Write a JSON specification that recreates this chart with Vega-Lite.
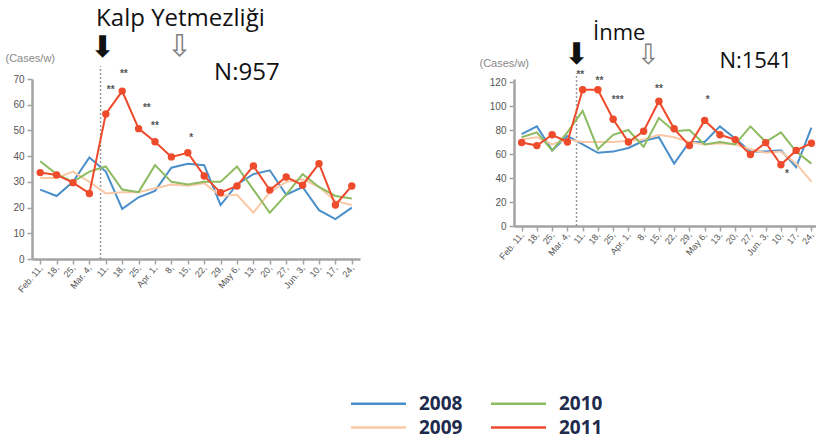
{
  "$schema": "https://vega.github.io/schema/vega-lite/v6.json",
  "padding": {"top": 7, "left": 5, "right": 0, "bottom": 0},
  "background": "white",
  "bounds": "flush",
  "spacing": 154,
  "datasets": {
    "series": [
      {"p":"L","year":"2008","w":0,"v":27},{"p":"L","year":"2008","w":1,"v":24.5},{"p":"L","year":"2008","w":2,"v":30},{"p":"L","year":"2008","w":3,"v":39.5},{"p":"L","year":"2008","w":4,"v":34},{"p":"L","year":"2008","w":5,"v":19.5},{"p":"L","year":"2008","w":6,"v":24},{"p":"L","year":"2008","w":7,"v":26.5},{"p":"L","year":"2008","w":8,"v":35.5},{"p":"L","year":"2008","w":9,"v":37},{"p":"L","year":"2008","w":10,"v":36.5},{"p":"L","year":"2008","w":11,"v":21},{"p":"L","year":"2008","w":12,"v":29},{"p":"L","year":"2008","w":13,"v":33},{"p":"L","year":"2008","w":14,"v":34.5},{"p":"L","year":"2008","w":15,"v":25},{"p":"L","year":"2008","w":16,"v":28},{"p":"L","year":"2008","w":17,"v":19},{"p":"L","year":"2008","w":18,"v":15.5},{"p":"L","year":"2008","w":19,"v":20},
      {"p":"L","year":"2009","w":0,"v":31.5},{"p":"L","year":"2009","w":1,"v":31.5},{"p":"L","year":"2009","w":2,"v":34},{"p":"L","year":"2009","w":3,"v":30},{"p":"L","year":"2009","w":4,"v":25.5},{"p":"L","year":"2009","w":5,"v":26},{"p":"L","year":"2009","w":6,"v":26},{"p":"L","year":"2009","w":7,"v":27.5},{"p":"L","year":"2009","w":8,"v":29},{"p":"L","year":"2009","w":9,"v":28.5},{"p":"L","year":"2009","w":10,"v":29.5},{"p":"L","year":"2009","w":11,"v":24.5},{"p":"L","year":"2009","w":12,"v":25},{"p":"L","year":"2009","w":13,"v":18},{"p":"L","year":"2009","w":14,"v":26},{"p":"L","year":"2009","w":15,"v":30},{"p":"L","year":"2009","w":16,"v":31},{"p":"L","year":"2009","w":17,"v":28},{"p":"L","year":"2009","w":18,"v":22.5},{"p":"L","year":"2009","w":19,"v":21},
      {"p":"L","year":"2010","w":0,"v":38},{"p":"L","year":"2010","w":1,"v":33},{"p":"L","year":"2010","w":2,"v":30},{"p":"L","year":"2010","w":3,"v":34},{"p":"L","year":"2010","w":4,"v":36},{"p":"L","year":"2010","w":5,"v":27},{"p":"L","year":"2010","w":6,"v":26},{"p":"L","year":"2010","w":7,"v":36.5},{"p":"L","year":"2010","w":8,"v":30},{"p":"L","year":"2010","w":9,"v":29},{"p":"L","year":"2010","w":10,"v":30},{"p":"L","year":"2010","w":11,"v":30},{"p":"L","year":"2010","w":12,"v":36},{"p":"L","year":"2010","w":13,"v":27},{"p":"L","year":"2010","w":14,"v":18},{"p":"L","year":"2010","w":15,"v":25},{"p":"L","year":"2010","w":16,"v":33},{"p":"L","year":"2010","w":17,"v":28},{"p":"L","year":"2010","w":18,"v":24.5},{"p":"L","year":"2010","w":19,"v":23.5},
      {"p":"L","year":"2011","w":0,"v":33.6},{"p":"L","year":"2011","w":1,"v":32.7},{"p":"L","year":"2011","w":2,"v":29.7},{"p":"L","year":"2011","w":3,"v":25.5},{"p":"L","year":"2011","w":4,"v":56.4},{"p":"L","year":"2011","w":5,"v":65.3},{"p":"L","year":"2011","w":6,"v":50.7},{"p":"L","year":"2011","w":7,"v":45.6},{"p":"L","year":"2011","w":8,"v":39.7},{"p":"L","year":"2011","w":9,"v":41.3},{"p":"L","year":"2011","w":10,"v":32.3},{"p":"L","year":"2011","w":11,"v":25.8},{"p":"L","year":"2011","w":12,"v":28.4},{"p":"L","year":"2011","w":13,"v":36.2},{"p":"L","year":"2011","w":14,"v":26.8},{"p":"L","year":"2011","w":15,"v":31.9},{"p":"L","year":"2011","w":16,"v":28.7},{"p":"L","year":"2011","w":17,"v":37.1},{"p":"L","year":"2011","w":18,"v":21},{"p":"L","year":"2011","w":19,"v":28.4},
      {"p":"R","year":"2008","w":0,"v":76.6},{"p":"R","year":"2008","w":1,"v":83},{"p":"R","year":"2008","w":2,"v":63},{"p":"R","year":"2008","w":3,"v":75},{"p":"R","year":"2008","w":4,"v":68},{"p":"R","year":"2008","w":5,"v":61},{"p":"R","year":"2008","w":6,"v":62},{"p":"R","year":"2008","w":7,"v":65},{"p":"R","year":"2008","w":8,"v":71},{"p":"R","year":"2008","w":9,"v":74},{"p":"R","year":"2008","w":10,"v":52},{"p":"R","year":"2008","w":11,"v":70},{"p":"R","year":"2008","w":12,"v":70},{"p":"R","year":"2008","w":13,"v":83},{"p":"R","year":"2008","w":14,"v":73},{"p":"R","year":"2008","w":15,"v":62},{"p":"R","year":"2008","w":16,"v":62},{"p":"R","year":"2008","w":17,"v":63},{"p":"R","year":"2008","w":18,"v":49},{"p":"R","year":"2008","w":19,"v":82},
      {"p":"R","year":"2009","w":0,"v":72},{"p":"R","year":"2009","w":1,"v":74},{"p":"R","year":"2009","w":2,"v":68},{"p":"R","year":"2009","w":3,"v":72},{"p":"R","year":"2009","w":4,"v":70},{"p":"R","year":"2009","w":5,"v":70},{"p":"R","year":"2009","w":6,"v":70},{"p":"R","year":"2009","w":7,"v":71},{"p":"R","year":"2009","w":8,"v":72},{"p":"R","year":"2009","w":9,"v":76},{"p":"R","year":"2009","w":10,"v":74},{"p":"R","year":"2009","w":11,"v":70},{"p":"R","year":"2009","w":12,"v":68},{"p":"R","year":"2009","w":13,"v":69},{"p":"R","year":"2009","w":14,"v":68},{"p":"R","year":"2009","w":15,"v":64},{"p":"R","year":"2009","w":16,"v":61},{"p":"R","year":"2009","w":17,"v":62},{"p":"R","year":"2009","w":18,"v":52},{"p":"R","year":"2009","w":19,"v":37},
      {"p":"R","year":"2010","w":0,"v":74},{"p":"R","year":"2010","w":1,"v":78},{"p":"R","year":"2010","w":2,"v":63},{"p":"R","year":"2010","w":3,"v":78},{"p":"R","year":"2010","w":4,"v":96},{"p":"R","year":"2010","w":5,"v":64},{"p":"R","year":"2010","w":6,"v":76},{"p":"R","year":"2010","w":7,"v":80},{"p":"R","year":"2010","w":8,"v":66},{"p":"R","year":"2010","w":9,"v":90},{"p":"R","year":"2010","w":10,"v":79},{"p":"R","year":"2010","w":11,"v":80},{"p":"R","year":"2010","w":12,"v":68},{"p":"R","year":"2010","w":13,"v":70},{"p":"R","year":"2010","w":14,"v":68},{"p":"R","year":"2010","w":15,"v":83},{"p":"R","year":"2010","w":16,"v":70},{"p":"R","year":"2010","w":17,"v":78},{"p":"R","year":"2010","w":18,"v":62},{"p":"R","year":"2010","w":19,"v":52},
      {"p":"R","year":"2011","w":0,"v":69.6},{"p":"R","year":"2011","w":1,"v":67},{"p":"R","year":"2011","w":2,"v":76},{"p":"R","year":"2011","w":3,"v":70},{"p":"R","year":"2011","w":4,"v":113.5},{"p":"R","year":"2011","w":5,"v":113.5},{"p":"R","year":"2011","w":6,"v":89},{"p":"R","year":"2011","w":7,"v":70},{"p":"R","year":"2011","w":8,"v":79},{"p":"R","year":"2011","w":9,"v":104},{"p":"R","year":"2011","w":10,"v":81},{"p":"R","year":"2011","w":11,"v":67},{"p":"R","year":"2011","w":12,"v":88},{"p":"R","year":"2011","w":13,"v":76},{"p":"R","year":"2011","w":14,"v":72},{"p":"R","year":"2011","w":15,"v":59.5},{"p":"R","year":"2011","w":16,"v":69.5},{"p":"R","year":"2011","w":17,"v":51},{"p":"R","year":"2011","w":18,"v":63},{"p":"R","year":"2011","w":19,"v":69}
    ],
    "notes": [
      {"p":"L","k":"rule","w":3.68,"v":0,"v2":75},
      {"p":"L","k":"head","w":8.55,"v":93.3,"t":"Kalp Yetmezliği"},
      {"p":"L","k":"head","w":12.6,"v":72.3,"t":"N:957"},
      {"p":"L","k":"star","w":4.3,"v":65.7,"t":"**"},
      {"p":"L","k":"star","w":5.1,"v":72,"t":"**"},
      {"p":"L","k":"star","w":6.5,"v":58.7,"t":"**"},
      {"p":"L","k":"star","w":7.0,"v":51.7,"t":"**"},
      {"p":"L","k":"star","w":9.2,"v":47,"t":"*"},
      {"p":"L","k":"solid","w":3.8,"v":82,"t":"⬇"},
      {"p":"L","k":"hollow","w":8.5,"v":82.5,"t":"⇩"},
      {"p":"R","k":"rule","w":3.6,"v":0,"v2":127},
      {"p":"R","k":"head","w":6.4,"v":160.8,"t":"İnme"},
      {"p":"R","k":"head","w":15.35,"v":137.5,"t":"N:1541"},
      {"p":"R","k":"star","w":3.85,"v":126,"t":"**"},
      {"p":"R","k":"star","w":5.1,"v":120.6,"t":"**"},
      {"p":"R","k":"star","w":6.3,"v":104.6,"t":"***"},
      {"p":"R","k":"star","w":9.0,"v":114.4,"t":"**"},
      {"p":"R","k":"star","w":12.2,"v":104.6,"t":"*"},
      {"p":"R","k":"star","w":17.4,"v":43,"t":"*"},
      {"p":"R","k":"solid","w":3.6,"v":142.5,"t":"⬇"},
      {"p":"R","k":"hollow","w":8.3,"v":141.5,"t":"⇩"}
    ]
  },
  "resolve": {"scale": {"color": "shared"}, "legend": {"color": "shared"}},
  "hconcat": [
    {
      "width": 328,
      "height": 180,
      "encoding": {
        "x": {"field": "w", "type": "quantitative", "scale": {"domain": [-0.5, 19.5], "nice": false, "zero": false},
          "axis": {"values": [0,1,2,3,4,5,6,7,8,9,10,11,12,13,14,15,16,17,18,19], "title": null,
            "labelExpr": "['Feb. 11,','18,','25,','Mar. 4,','11,','18,','25,','Apr. 1,','8,','15,','22,','29,','May 6,','13,','20,','27,','Jun. 3,','10,','17,','24,'][datum.value]"}},
        "y": {"field": "v", "type": "quantitative", "scale": {"domain": [0, 70], "nice": false},
          "axis": {"values": [0,10,20,30,40,50,60,70], "title": "(Cases/w)", "titleX": -27, "titleY": -21}}
      },
      "layer": [
        {"data": {"name": "notes"}, "transform": [{"filter": "datum.p == 'L' && datum.k == 'rule'"}],
         "mark": {"type": "rule", "strokeDash": [2, 2], "color": "#9a9a9a", "strokeWidth": 1.5},
         "encoding": {"y2": {"field": "v2"}}},
        {"data": {"name": "series"}, "transform": [{"filter": "datum.p == 'L'"}],
         "mark": {"type": "line", "strokeWidth": 2},
         "encoding": {"color": {"field": "year", "type": "nominal",
           "scale": {"domain": ["2008", "2009", "2010", "2011"], "range": ["#4a8fca", "#f9c8a6", "#8dbb5f", "#ee4a2c"]},
           "legend": {"orient": "none", "legendX": 337, "legendY": 315, "title": null, "values": ["2008", "2009", "2010", "2011"]}}}},
        {"data": {"name": "series"}, "transform": [{"filter": "datum.p == 'L' && datum.year == '2011'"}],
         "mark": {"type": "circle", "size": 55, "color": "#ee4a2c", "opacity": 1}},
        {"data": {"name": "notes"}, "transform": [{"filter": "datum.p == 'L' && datum.k == 'star'"}],
         "mark": {"type": "text", "fontSize": 10, "fontWeight": "bold", "color": "#555555", "font": "Liberation Sans"},
         "encoding": {"text": {"field": "t"}}},
        {"data": {"name": "notes"}, "transform": [{"filter": "datum.p == 'L' && datum.k == 'head'"}],
         "mark": {"type": "text", "fontSize": 24, "color": "#111111", "font": "Open Sans"},
         "encoding": {"text": {"field": "t"}}},
        {"data": {"name": "notes"}, "transform": [{"filter": "datum.p == 'L' && datum.k == 'solid'"}],
         "mark": {"type": "text", "fontSize": 30, "color": "#111111", "font": "DejaVu Sans"},
         "encoding": {"text": {"field": "t"}}},
        {"data": {"name": "notes"}, "transform": [{"filter": "datum.p == 'L' && datum.k == 'hollow'"}],
         "mark": {"type": "text", "fontSize": 30, "color": "#808080", "font": "DejaVu Sans"},
         "encoding": {"text": {"field": "t"}}}
      ]
    },
    {
      "width": 302,
      "height": 147,
      "encoding": {
        "x": {"field": "w", "type": "quantitative", "scale": {"domain": [-0.5, 19.3], "nice": false, "zero": false},
          "axis": {"values": [0,1,2,3,4,5,6,7,8,9,10,11,12,13,14,15,16,17,18,19], "title": null,
            "labelExpr": "['Feb. 11,','18,','25,','Mar. 4,','11,','18,','25,','Apr. 1,','8,','15,','22,','29,','May 6,','13,','20,','27,','Jun. 3,','10,','17,','24,'][datum.value]"}},
        "y": {"field": "v", "type": "quantitative", "scale": {"domain": [0, 122.5], "nice": false},
          "axis": {"values": [0,20,40,60,80,100,120], "title": "(Cases/w)", "titleX": -35, "titleY": -16}}
      },
      "layer": [
        {"data": {"name": "notes"}, "transform": [{"filter": "datum.p == 'R' && datum.k == 'rule'"}],
         "mark": {"type": "rule", "strokeDash": [2, 2], "color": "#9a9a9a", "strokeWidth": 1.5},
         "encoding": {"y2": {"field": "v2"}}},
        {"data": {"name": "series"}, "transform": [{"filter": "datum.p == 'R'"}],
         "mark": {"type": "line", "strokeWidth": 2},
         "encoding": {"color": {"field": "year", "type": "nominal",
           "scale": {"domain": ["2008", "2009", "2010", "2011"], "range": ["#4a8fca", "#f9c8a6", "#8dbb5f", "#ee4a2c"]},
           "legend": {"orient": "none", "legendX": 337, "legendY": 315, "title": null, "values": ["2008", "2009", "2010", "2011"]}}}},
        {"data": {"name": "series"}, "transform": [{"filter": "datum.p == 'R' && datum.year == '2011'"}],
         "mark": {"type": "circle", "size": 55, "color": "#ee4a2c", "opacity": 1}},
        {"data": {"name": "notes"}, "transform": [{"filter": "datum.p == 'R' && datum.k == 'star'"}],
         "mark": {"type": "text", "fontSize": 10, "fontWeight": "bold", "color": "#555555", "font": "Liberation Sans"},
         "encoding": {"text": {"field": "t"}}},
        {"data": {"name": "notes"}, "transform": [{"filter": "datum.p == 'R' && datum.k == 'head'"}],
         "mark": {"type": "text", "fontSize": 22, "color": "#111111", "font": "Open Sans"},
         "encoding": {"text": {"field": "t"}}},
        {"data": {"name": "notes"}, "transform": [{"filter": "datum.p == 'R' && datum.k == 'solid'"}],
         "mark": {"type": "text", "fontSize": 30, "color": "#111111", "font": "DejaVu Sans"},
         "encoding": {"text": {"field": "t"}}},
        {"data": {"name": "notes"}, "transform": [{"filter": "datum.p == 'R' && datum.k == 'hollow'"}],
         "mark": {"type": "text", "fontSize": 28, "color": "#808080", "font": "DejaVu Sans"},
         "encoding": {"text": {"field": "t"}}}
      ]
    }
  ],
  "config": {
    "view": {"stroke": null},
    "axis": {
      "grid": false,
      "domainColor": "#a3a3a3", "domainWidth": 2.5,
      "tickColor": "#a3a3a3", "tickWidth": 1.5, "tickSize": 5,
      "labelColor": "#555555", "labelFontSize": 10, "labelFont": "Liberation Sans",
      "titleColor": "#888888", "titleFontSize": 11, "titleFont": "Liberation Sans", "titleFontWeight": "normal"
    },
    "axisX": {"labelAngle": -50, "labelOverlap": false, "labelFlush": false, "labelBound": false, "labelFontSize": 9},
    "axisY": {"titleAngle": 0, "titleAlign": "left", "titleBaseline": "middle", "labelPadding": 3},
    "legend": {
      "columns": 2, "symbolType": "M-5,0H5", "symbolSize": 121, "symbolStrokeWidth": 2.5,
      "labelFontSize": 19, "labelFont": "Open Sans", "labelFontWeight": "bold", "labelColor": "#1e2b4c",
      "labelOffset": 31, "columnPadding": 23, "rowPadding": 4
    }
  }
}
